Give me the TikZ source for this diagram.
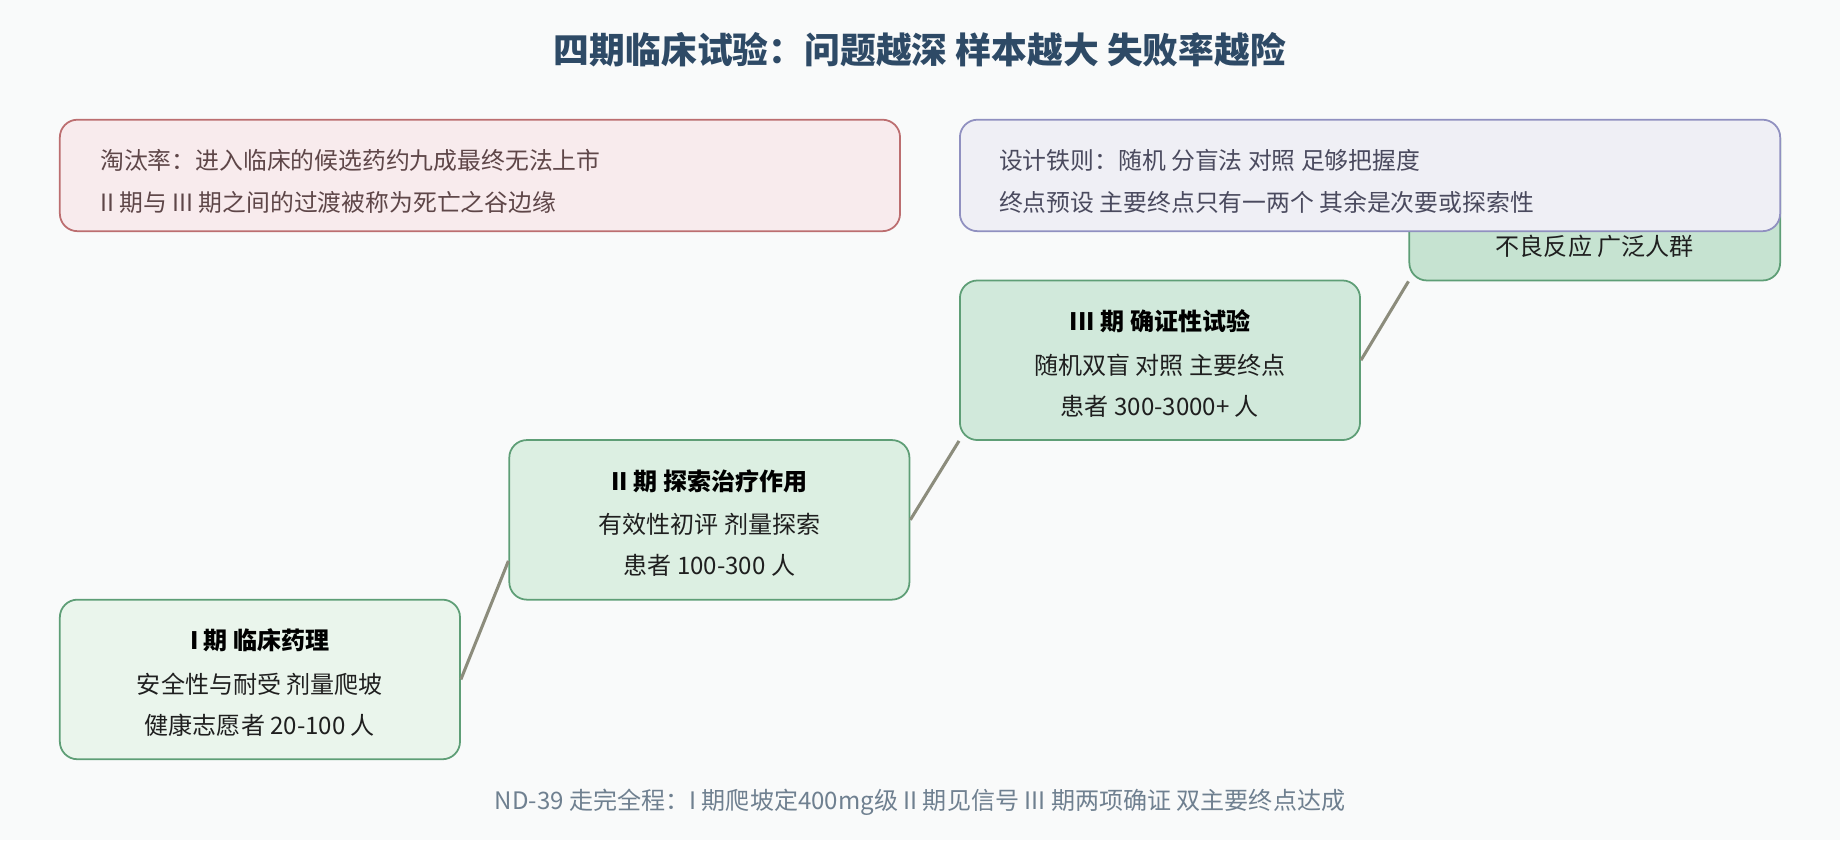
\documentclass[tikz,border=0pt]{standalone}
\usepackage{fontspec}
\setmainfont{Noto Sans CJK SC}
\usetikzlibrary{calc}
\definecolor{bg}{HTML}{F9FAFA}
\definecolor{titlec}{HTML}{2E4A66}
\definecolor{footc}{HTML}{6F8090}
\definecolor{stageb}{HTML}{5E9E76}
\definecolor{fillA}{HTML}{EAF5EC}
\definecolor{fillB}{HTML}{DCEFE2}
\definecolor{fillC}{HTML}{D1E9DB}
\definecolor{fillD}{HTML}{C6E3D1}
\definecolor{redf}{HTML}{F8EBED}
\definecolor{redb}{HTML}{BC6E70}
\definecolor{redt}{HTML}{5E4648}
\definecolor{purf}{HTML}{EFEFF5}
\definecolor{purb}{HTML}{9090C0}
\definecolor{purt}{HTML}{4A4A5E}
\definecolor{linkc}{HTML}{8C8C7C}
\tikzset{
  stagebox/.style={draw=stageb, line width=1.5pt, rounded corners=15pt, minimum width=341pt, minimum height=136pt, inner sep=0pt},
  notebox/.style={line width=1.5pt, rounded corners=15pt, inner sep=0pt},
  sttitle/.style={font=\fontsize{20.5}{24}\selectfont\bfseries, text=black, inner sep=0pt},
  sttext/.style={font=\fontsize{20.5}{24}\selectfont, text=black!88, inner sep=0pt},
  notetext/.style={font=\fontsize{20.3}{24}\selectfont, inner sep=0pt, anchor=west},
  link/.style={draw=linkc, line width=2.6pt}
}
\begin{document}
\begin{tikzpicture}[x=1pt,y=-1pt]
\fill[bg] (0,0) rectangle (1568,716);
\useasboundingbox (0,0) rectangle (1568,716);
% title
\node[font=\fontsize{30.5}{34}\selectfont\bfseries, text=titlec, inner sep=0pt] (title) at (784,42) {四期临床试验：问题越深 样本越大 失败率越险};
% stage IV (mostly hidden)
\node[stagebox, fill=fillD, minimum width=316pt] (p4) at (1359,171) {};
\node[sttext] (p4c) at ($(p4.center)+(0,39)$) {不良反应 广泛人群};
% notes
\node[notebox, draw=redb, fill=redf, minimum width=716pt, minimum height=95pt] (red) at (409,149.5) {};
\node[notetext, text=redt] (red1) at ($(red.west)+(35,-13)$) {淘汰率：进入临床的候选药约九成最终无法上市};
\node[notetext, text=redt] (red2) at ($(red.west)+(35,23)$) {II 期与 III 期之间的过渡被称为死亡之谷边缘};
\node[notebox, draw=purb, fill=purf, minimum width=699pt, minimum height=95pt] (pur) at (1167.5,149.5) {};
\node[notetext, text=purt] (pur1) at ($(pur.west)+(34,-13)$) {设计铁则：随机 分盲法 对照 足够把握度};
\node[notetext, text=purt] (pur2) at ($(pur.west)+(34,23)$) {终点预设 主要终点只有一两个 其余是次要或探索性};
% stages
\node[stagebox, fill=fillA] (p1) at (221.5,579) {};
\node[sttitle] (p1a) at ($(p1.center)+(0,-33)$) {I 期 临床药理};
\node[sttext] (p1b) at ($(p1.center)+(0,4)$) {安全性与耐受 剂量爬坡};
\node[sttext] (p1c) at ($(p1.center)+(0,39)$) {健康志愿者 20-100 人};
\node[stagebox, fill=fillB] (p2) at (604.5,443) {};
\node[sttitle] (p2a) at ($(p2.center)+(0,-33)$) {II 期 探索治疗作用};
\node[sttext] (p2b) at ($(p2.center)+(0,4)$) {有效性初评 剂量探索};
\node[sttext] (p2c) at ($(p2.center)+(0,39)$) {患者 100-300 人};
\node[stagebox, fill=fillC] (p3) at (988.5,307) {};
\node[sttitle] (p3a) at ($(p3.center)+(0,-33)$) {III 期 确证性试验};
\node[sttext] (p3b) at ($(p3.center)+(0,4)$) {随机双盲 对照 主要终点};
\node[sttext] (p3c) at ($(p3.center)+(0,39)$) {患者 300-3000+ 人};
% connectors
\draw[link] (p1.east) -- ($(p2.west)+(0,35)$);
\draw[link] (p2.east) -- (p3.south west);
\draw[link] (p3.east) -- (p4.south west);
% footer
\node[font=\fontsize{20.5}{24}\selectfont, text=footc, inner sep=0pt] (foot) at (784,684) {ND-39 走完全程：I 期爬坡定400mg级 II 期见信号 III 期两项确证 双主要终点达成};
\end{tikzpicture}
\end{document}
